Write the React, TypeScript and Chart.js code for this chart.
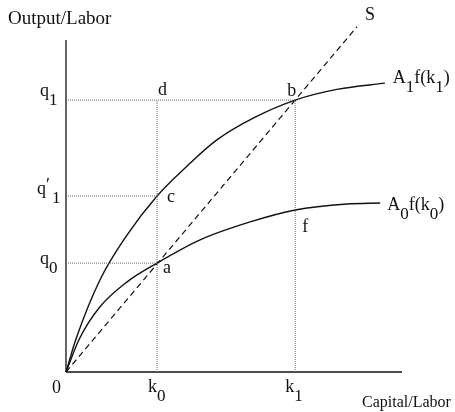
import React, { useEffect, useRef } from "react";
import { Chart, registerables } from "chart.js";

Chart.register(...registerables);

// Key values (capital per labor on x, output per labor on y)
const K0 = 2.71;
const K1 = 6.82;
const Q0 = 3.28;
const Q1P = 5.3;
const Q1 = 8.19;
const AXIS_X_MAX = 10;
const AXIS_Y_MAX = 10;

// Upper production function A1 f(k)
const a1K = [0, 0.3, 1.01, 1.8, 2.71, 3.6, 4.49, 5.6, 6.82, 8.1, 9.49];
const a1Q = [0, 1.0, 2.77, 4.1, 5.3, 6.2, 6.99, 7.66, 8.19, 8.52, 8.7];

// Lower production function A0 f(k)
const a0K = [0, 0.4, 1.0, 1.8, 2.71, 3.99, 5.48, 6.82, 8.36, 9.35];
const a0Q = [0, 1.0, 1.95, 2.7, 3.28, 3.98, 4.52, 4.88, 5.06, 5.09];

// Savings / investment ray S
const sK = [0, 8.66];
const sQ = [0, 10.4];

type Part = [string, "n" | "s" | "p"];
type Label = { parts: Part[]; ax: number; ay: number; dx: number; dy: number; size?: number };

const FONT = '"Liberation Serif", "DejaVu Serif", serif';

const labels: Label[] = [
  { parts: [["Output/Labor", "n"]], ax: 0, ay: AXIS_Y_MAX, dx: -58, dy: -16, size: 19 },
  { parts: [["Capital/Labor", "n"]], ax: AXIS_X_MAX, ay: 0, dx: -40, dy: 35, size: 16 },
  { parts: [["q", "n"], ["1", "s"]], ax: 0, ay: Q1, dx: -26, dy: -4 },
  { parts: [["q", "n"], ["\u2032", "p"], ["1", "s"]], ax: 0, ay: Q1P, dx: -29, dy: -2 },
  { parts: [["q", "n"], ["0", "s"]], ax: 0, ay: Q0, dx: -26, dy: 1 },
  { parts: [["0", "n"]], ax: 0, ay: 0, dx: -14, dy: 21 },
  { parts: [["k", "n"], ["0", "s"]], ax: K0, ay: 0, dx: -9, dy: 20 },
  { parts: [["k", "n"], ["1", "s"]], ax: K1, ay: 0, dx: -10, dy: 20 },
  { parts: [["S", "n"]], ax: sK[1], ay: sQ[1], dx: 8, dy: -7 },
  { parts: [["A", "n"], ["1", "s"], ["f(k", "n"], ["1", "s"], [")", "n"]], ax: a1K[a1K.length - 1], ay: a1Q[a1Q.length - 1], dx: 8, dy: 0 },
  { parts: [["A", "n"], ["0", "s"], ["f(k", "n"], ["0", "s"], [")", "n"]], ax: a0K[a0K.length - 1], ay: a0Q[a0Q.length - 1], dx: 7, dy: 7 },
  { parts: [["d", "n"]], ax: K0, ay: Q1, dx: 1, dy: -5 },
  { parts: [["b", "n"]], ax: K1, ay: Q1, dx: -8, dy: -4 },
  { parts: [["c", "n"]], ax: K0, ay: Q1P, dx: 10, dy: 6 },
  { parts: [["a", "n"]], ax: K0, ay: Q0, dx: 6, dy: 10 },
  { parts: [["f", "n"]], ax: K1, ay: a0Q[a0K.indexOf(K1)], dx: 7, dy: 22 },
];

const pts = (xs: number[], ys: number[]) => xs.map((x, i) => ({ x, y: ys[i] }));

const textPlugin = {
  id: "econText",
  afterDatasetsDraw(chart: any) {
    const { ctx, scales } = chart;
    const xs = scales.x;
    const ys = scales.y;
    ctx.save();
    ctx.fillStyle = "#111";
    ctx.textBaseline = "alphabetic";
    ctx.textAlign = "left";
    for (const lb of labels) {
      const size = lb.size ?? 18;
      let x = xs.getPixelForValue(lb.ax) + lb.dx;
      const y = ys.getPixelForValue(lb.ay) + lb.dy;
      for (const [t, kind] of lb.parts) {
        if (kind === "n") {
          ctx.font = `${size}px ${FONT}`;
          ctx.fillText(t, x, y);
        } else if (kind === "s") {
          ctx.font = `${size - 1}px ${FONT}`;
          ctx.fillText(t, x, y + 9);
        } else {
          ctx.font = `${size}px ${FONT}`;
          ctx.fillText(t, x, y - 3);
        }
        x += ctx.measureText(t).width + (kind === "p" ? 2 : 0);
      }
    }
    ctx.restore();
  },
};

export default function App() {
  const ref = useRef<HTMLCanvasElement | null>(null);

  useEffect(() => {
    const canvas = ref.current;
    if (!canvas) return;
    const solid = { borderColor: "#111", borderWidth: 1.4, pointRadius: 0, showLine: true, fill: false };
    const dotted = { borderColor: "#666", borderWidth: 1, borderDash: [1, 1], pointRadius: 0, showLine: true, fill: false };
    const chart = new Chart(canvas, {
      type: "scatter",
      data: {
        datasets: [
          { ...dotted, data: pts([0, K1], [Q1, Q1]) },
          { ...dotted, data: pts([K0, K0], [0, Q1]) },
          { ...dotted, data: pts([0, K0], [Q1P, Q1P]) },
          { ...dotted, data: pts([0, K0], [Q0, Q0]) },
          { ...dotted, data: pts([K1, K1], [0, Q1]) },
          { ...solid, borderWidth: 1.3, data: pts([0, 0], [0, AXIS_Y_MAX]) },
          { ...solid, borderWidth: 1.3, data: pts([0, AXIS_X_MAX], [0, 0]) },
          { ...solid, borderDash: [6, 4], borderWidth: 1.2, data: pts(sK, sQ) },
          { ...solid, cubicInterpolationMode: "monotone", data: pts(a1K, a1Q) },
          { ...solid, cubicInterpolationMode: "monotone", data: pts(a0K, a0Q) },
        ] as any,
      },
      options: {
        animation: false,
        responsive: true,
        maintainAspectRatio: false,
        layout: { padding: 0 },
        plugins: { legend: { display: false }, tooltip: { enabled: false } },
        scales: {
          x: { type: "linear", min: -1.964, max: 11.577, display: false },
          y: { type: "linear", min: -1.205, max: 11.205, display: false },
        },
      },
      plugins: [textPlugin],
    });
    return () => chart.destroy();
  }, []);

  return (
    <div style={{ position: "absolute", left: 0, top: 0, width: 455, height: 412, background: "#fff" }}>
      <canvas ref={ref} />
    </div>
  );
}
